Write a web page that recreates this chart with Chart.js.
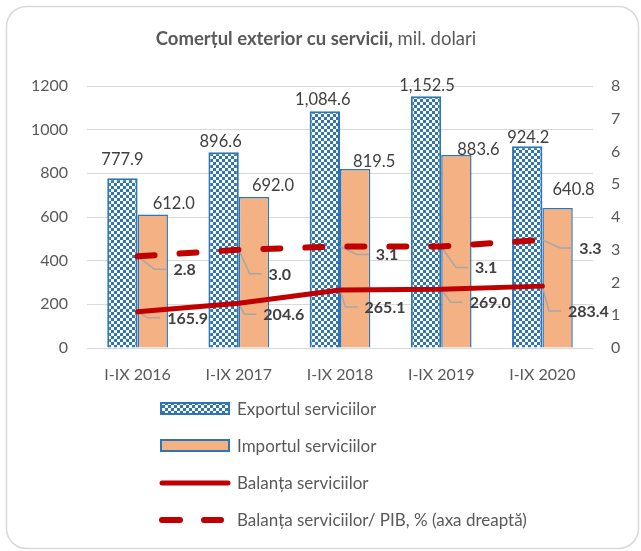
<!DOCTYPE html>
<html>
<head>
<meta charset="utf-8">
<script src="https://cdn.jsdelivr.net/npm/chart.js@4.4.0/dist/chart.umd.min.js"></script>
<style>
html, body { margin: 0; padding: 0; background: #fff; }
#wrap { width: 641px; height: 551px; }
</style>
</head>
<body>
<div id="wrap"><canvas id="chart" width="641" height="551"></canvas></div>
<script>
const categories = ['I-IX 2016', 'I-IX 2017', 'I-IX 2018', 'I-IX 2019', 'I-IX 2020'];
const exportValues = [777.9, 896.6, 1084.6, 1152.5, 924.2];
const importValues = [612.0, 692.0, 819.5, 883.6, 640.8];
const balanceValues = [165.9, 204.6, 265.1, 269.0, 283.4];
const balanceGdpValues = [2.8, 3.0, 3.1, 3.1, 3.3];

const seriesNames = ['Exportul serviciilor', 'Importul serviciilor', 'Balanța serviciilor',
	'Balanța serviciilor/ PIB, % (axa dreaptă)'];

// label nudges (dx, dy) from the bar top / line point, as placed in the original
const exportLabelShift = [[0, -19], [-3, -11], [-2, -12], [1, -11], [1, -9]];
const importLabelShift = [[21, -11], [19, -12], [19, -8], [22, -6], [16, -19]];
const balanceLabelShift = [[50, 6], [45, 11], [45, 17], [49, 13], [46, 25]];
const gdpLabelShift = [[47, 13], [41, 24], [47, 8], [45, 21], [48, 8]];

const blue = '#2E75B6', orange = '#F4B183', red = '#C00000';
const gridGray = '#D9D9D9', textGray = '#595959', labelGray = '#404040', leaderGray = '#A6A6A6';
const fontFamily = 'Lato, "Open Sans", sans-serif';

const canvas = document.getElementById('chart');
const mainCtx = canvas.getContext('2d');

function makeChecker() {
	const c = document.createElement('canvas');
	c.width = 6;
	c.height = 6;
	const g = c.getContext('2d');
	g.fillStyle = blue;
	g.fillRect(0, 0, 6, 6);
	g.fillStyle = '#ffffff';
	g.fillRect(0, 0, 3, 3);
	g.fillRect(3, 3, 3, 3);
	return mainCtx.createPattern(c, 'repeat');
}
const checker = makeChecker();

function fmt(v) {
	return v.toLocaleString('en-US', { minimumFractionDigits: 1, maximumFractionDigits: 1 });
}

function textAt(ctx, text, cx, cy, size, bold, color, align) {
	ctx.font = (bold ? 'bold ' : '') + size + 'px ' + fontFamily;
	ctx.fillStyle = color;
	ctx.textAlign = align || 'center';
	ctx.textBaseline = 'alphabetic';
	ctx.fillText(text, cx, cy + size * 0.36);
}

const framePlugin = {
	id: 'frame',
	beforeDraw(chart) {
		const ctx = chart.ctx;
		ctx.save();
		ctx.fillStyle = '#ffffff';
		ctx.fillRect(0, 0, chart.width, chart.height);
		ctx.strokeStyle = gridGray;
		ctx.lineWidth = 1.5;
		ctx.beginPath();
		ctx.roundRect(6.5, 6.5, 632, 542, 20);
		ctx.stroke();
		ctx.restore();
	},
	afterDraw(chart) {
		const ctx = chart.ctx;
		ctx.save();
		// title: bold part + regular part
		const boldPart = 'Comerțul exterior cu servicii,';
		const normalPart = ' mil. dolari';
		ctx.font = 'bold 18.5px ' + fontFamily;
		const w1 = ctx.measureText(boldPart).width;
		ctx.font = '18.5px ' + fontFamily;
		const w2 = ctx.measureText(normalPart).width;
		const x0 = 316 - (w1 + w2) / 2;
		textAt(ctx, boldPart, x0, 38, 18.5, true, textGray, 'left');
		textAt(ctx, normalPart, x0 + w1, 38, 18.5, false, textGray, 'left');

		// legend
		const sx = 161, tx = 237;
		ctx.fillStyle = checker;
		ctx.fillRect(sx, 403, 68, 11);
		ctx.strokeStyle = blue;
		ctx.lineWidth = 2;
		ctx.strokeRect(sx, 403, 68, 11);
		ctx.fillStyle = orange;
		ctx.fillRect(sx, 440, 68, 11);
		ctx.strokeRect(sx, 440, 68, 11);

		ctx.strokeStyle = red;
		ctx.lineCap = 'round';
		ctx.lineWidth = 5;
		ctx.beginPath();
		ctx.moveTo(162, 483);
		ctx.lineTo(228, 483);
		ctx.stroke();
		ctx.lineWidth = 6;
		ctx.beginPath();
		ctx.moveTo(162, 520);
		ctx.lineTo(180, 520);
		ctx.moveTo(204, 520);
		ctx.lineTo(221, 520);
		ctx.stroke();

		const rows = [408.5, 446, 483, 520];
		seriesNames.forEach((name, i) => textAt(ctx, name, tx, rows[i], 17, false, textGray, 'left'));
		ctx.restore();
	}
};

function leaderPoints(chart, idx, values, shifts) {
	const ctx = chart.ctx;
	ctx.font = 'bold 16px ' + fontFamily;
	return chart.getDatasetMeta(idx).data.map((pt, i) => {
		const text = fmt(values[i]);
		const w = ctx.measureText(text).width;
		const lx = pt.x + shifts[i][0], ly = pt.y + shifts[i][1];
		return { pt, text, lx, ly, left: lx - w / 2 };
	});
}

const labelsPlugin = {
	id: 'valueLabels',
	afterDatasetDraw(chart, args) {
		// leader lines go over the bars but under the red lines
		if (args.index !== 0) return;
		const ctx = chart.ctx;
		ctx.save();
		ctx.strokeStyle = leaderGray;
		ctx.lineWidth = 1.5;
		const items = leaderPoints(chart, 2, balanceValues, balanceLabelShift)
			.concat(leaderPoints(chart, 3, balanceGdpValues, gdpLabelShift));
		items.forEach(it => {
			ctx.beginPath();
			ctx.moveTo(it.pt.x, it.pt.y);
			ctx.lineTo(it.left - 19, it.ly);
			ctx.lineTo(it.left - 7, it.ly);
			ctx.stroke();
		});
		ctx.restore();
	},
	afterDatasetsDraw(chart) {
		const ctx = chart.ctx;
		ctx.save();
		chart.getDatasetMeta(0).data.forEach((bar, i) => {
			textAt(ctx, fmt(exportValues[i]), bar.x + exportLabelShift[i][0], bar.y + exportLabelShift[i][1], 16.5, false, labelGray);
		});
		chart.getDatasetMeta(1).data.forEach((bar, i) => {
			textAt(ctx, fmt(importValues[i]), bar.x + importLabelShift[i][0], bar.y + importLabelShift[i][1], 16.5, false, labelGray);
		});
		const items = leaderPoints(chart, 2, balanceValues, balanceLabelShift)
			.concat(leaderPoints(chart, 3, balanceGdpValues, gdpLabelShift));
		items.forEach(it => textAt(ctx, it.text, it.lx, it.ly, 16, true, labelGray));
		ctx.restore();
	}
};

Chart.defaults.font.family = fontFamily;
Chart.defaults.color = textGray;

new Chart(canvas, {
	type: 'bar',
	data: {
		labels: categories,
		datasets: [{
			label: seriesNames[0],
			data: exportValues,
			backgroundColor: checker,
			borderColor: blue,
			borderWidth: 2,
			order: 2,
			yAxisID: 'y'
		}, {
			label: seriesNames[1],
			data: importValues,
			backgroundColor: orange,
			borderColor: blue,
			borderWidth: 1.5,
			order: 2,
			yAxisID: 'y'
		}, {
			label: seriesNames[2],
			type: 'line',
			data: balanceValues,
			borderColor: red,
			backgroundColor: red,
			borderWidth: 5,
			borderCapStyle: 'round',
			pointRadius: 0,
			order: 1,
			yAxisID: 'y'
		}, {
			label: seriesNames[3],
			type: 'line',
			data: balanceGdpValues,
			borderColor: red,
			backgroundColor: red,
			borderWidth: 6,
			borderDash: [17, 25],
			borderCapStyle: 'round',
			pointRadius: 0,
			order: 1,
			yAxisID: 'y2'
		}]
	},
	options: {
		responsive: false,
		animation: false,
		devicePixelRatio: 1,
		layout: {
			padding: { left: 20, right: 12, top: 86, bottom: 163 }
		},
		datasets: {
			bar: {
				categoryPercentage: 0.6,
				barPercentage: 1
			}
		},
		plugins: {
			legend: { display: false },
			title: { display: false },
			tooltip: { enabled: false }
		},
		scales: {
			x: {
				grid: { display: false, drawTicks: false },
				border: { display: false },
				ticks: { padding: 17, font: { size: 16 }, color: textGray },
				afterFit: s => { s.height = 40; }
			},
			y: {
				position: 'left',
				min: 0,
				max: 1200,
				ticks: { stepSize: 200, padding: 19, font: { size: 16 }, color: textGray, callback: v => String(v) },
				grid: { color: gridGray, lineWidth: 1, drawTicks: false },
				border: { display: false },
				afterFit: s => { s.width = 67; }
			},
			y2: {
				position: 'right',
				min: 0,
				max: 8,
				ticks: { stepSize: 1, padding: 18, font: { size: 16 }, color: textGray, callback: v => String(v) },
				grid: { display: false, drawTicks: false },
				border: { display: false },
				afterFit: s => { s.width = 36; }
			}
		}
	},
	plugins: [framePlugin, labelsPlugin]
});
</script>
</body>
</html>
